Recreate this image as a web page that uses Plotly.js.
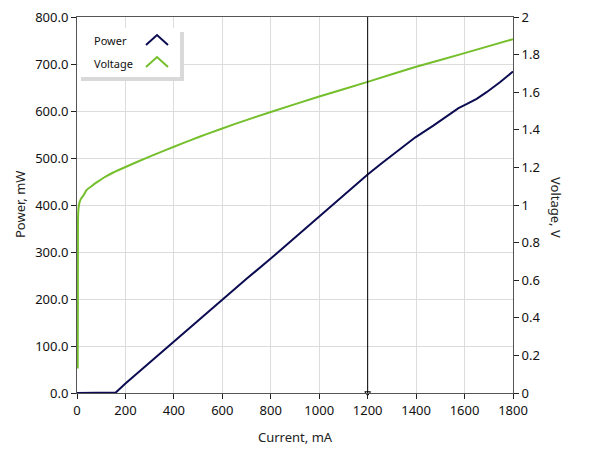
<!DOCTYPE html>
<html>
<head>
<meta charset="utf-8">
<script src="https://cdn.plot.ly/plotly-3.0.1.min.js"></script>
<style>html,body{margin:0;padding:0;background:#fff;}#chart{width:589px;height:456px;}</style>
</head>
<body>
<div id="chart"></div>
<script>
// Data
const powerCurrent = [0, 155, 160, 200, 300, 400, 500, 600, 700, 800, 900, 1000, 1100, 1200, 1258, 1300, 1397, 1471, 1575, 1610, 1650, 1691, 1746, 1800];
const powerValues  = [0, 0, 1, 20, 65, 110, 155, 200, 243, 286, 331, 377, 421, 465, 489, 506, 544, 569, 606, 615, 626, 640, 661, 684];

const voltCurrent = [3, 3.5, 4, 5, 8, 15, 26, 40, 60, 81, 110, 150, 205, 290, 340, 400, 470, 535, 650, 800, 1000, 1200, 1400, 1600, 1800];
const voltValues  = [0.13, 0.6, 0.9, 0.96, 1.0, 1.03, 1.05, 1.08, 1.10, 1.12, 1.145, 1.173, 1.205, 1.252, 1.279, 1.310, 1.345, 1.377, 1.43, 1.495, 1.577, 1.655, 1.735, 1.808, 1.882];

const xTicks = [0, 200, 400, 600, 800, 1000, 1200, 1400, 1600, 1800];
const yTicks = [0, 100, 200, 300, 400, 500, 600, 700, 800];
const y2Ticks = [0, 0.2, 0.4, 0.6, 0.8, 1, 1.2, 1.4, 1.6, 1.8, 2];
const seriesNames = ['Power', 'Voltage'];
const cursorX = 1200;

const powerColor = '#0c0c52';
const voltColor = '#74bf2b';
const font = 'Noto Sans, Open Sans, sans-serif';

// Pixel geometry of plot area -> paper helpers (for legend decoration)
const L = 77, R = 513, T = 17, B = 393;
const px = v => (v - L) / (R - L);
const py = v => (B - v) / (B - T);

const traces = [
  {x: powerCurrent, y: powerValues, name: seriesNames[0], type: 'scatter', mode: 'lines',
   line: {color: powerColor, width: 2}, yaxis: 'y', showlegend: false, hoverinfo: 'skip'},
  {x: voltCurrent, y: voltValues, name: seriesNames[1], type: 'scatter', mode: 'lines',
   line: {color: voltColor, width: 2, shape: 'spline', smoothing: 0.6}, yaxis: 'y2', showlegend: false, hoverinfo: 'skip'},
  {x: [cursorX], y: [0], type: 'scatter', mode: 'markers', cliponaxis: false,
   marker: {symbol: 'triangle-down-open', size: 5, color: '#000', line: {width: 1, color: '#000'}},
   showlegend: false, hoverinfo: 'skip'}
];

const axisCommon = {
  showline: true, linecolor: '#555', linewidth: 1,
  ticks: 'outside', ticklen: 5, tickcolor: '#222', tickwidth: 1,
  gridcolor: '#dcdcdc', gridwidth: 1, zeroline: false,
  tickfont: {family: font, size: 13, color: '#111'}
};

const shapes = [
  {type: 'line', xref: 'x', yref: 'paper', x0: cursorX, x1: cursorX, y0: 0, y1: 1,
   line: {color: '#000', width: 1}},
  // legend shadow and box
  {type: 'rect', xref: 'paper', yref: 'paper', x0: px(81), x1: px(184), y0: py(81), y1: py(32),
   line: {width: 0}, fillcolor: '#d9d9d9', layer: 'above'},
  {type: 'rect', xref: 'paper', yref: 'paper', x0: px(78), x1: px(180), y0: py(77), y1: py(28),
   line: {width: 0}, fillcolor: '#ffffff', layer: 'above'},
  // legend glyphs
  {type: 'path', xref: 'paper', yref: 'paper', layer: 'above',
   path: `M ${px(146)},${py(45)} L ${px(157)},${py(35)} L ${px(168)},${py(45)}`,
   line: {color: powerColor, width: 2}},
  {type: 'path', xref: 'paper', yref: 'paper', layer: 'above',
   path: `M ${px(146)},${py(67)} L ${px(157)},${py(57)} L ${px(168)},${py(67)}`,
   line: {color: voltColor, width: 2}}
];

const annotations = [
  {text: seriesNames[0], xref: 'paper', yref: 'paper', x: px(92), y: py(41), xanchor: 'left', yanchor: 'middle',
   showarrow: false, font: {family: font, size: 11, color: '#111'}},
  {text: seriesNames[1], xref: 'paper', yref: 'paper', x: px(92), y: py(63), xanchor: 'left', yanchor: 'middle',
   showarrow: false, font: {family: font, size: 11, color: '#111'}},
  {text: 'Power, mW', xref: 'paper', yref: 'paper', x: px(20), y: py(205), textangle: -90,
   xanchor: 'center', yanchor: 'middle', showarrow: false, font: {family: font, size: 13, color: '#222'}},
  {text: 'Voltage, V', xref: 'paper', yref: 'paper', x: px(556), y: py(207), textangle: 90,
   xanchor: 'center', yanchor: 'middle', showarrow: false, font: {family: font, size: 13, color: '#222'}},
  {text: 'Current, mA', xref: 'paper', yref: 'paper', x: px(295), y: py(437),
   xanchor: 'center', yanchor: 'middle', showarrow: false, font: {family: font, size: 13, color: '#222'}}
];

const layout = {
  width: 589, height: 456,
  margin: {l: L, r: 589 - R, t: T, b: 456 - B, pad: 0},
  paper_bgcolor: '#fff', plot_bgcolor: '#fff',
  showlegend: false,
  xaxis: Object.assign({}, axisCommon, {range: [0, 1800], tickvals: xTicks, mirror: true}),
  yaxis: Object.assign({}, axisCommon, {range: [0, 800], tickvals: yTicks, tickformat: '.1f'}),
  yaxis2: Object.assign({}, axisCommon, {range: [0, 2], tickvals: y2Ticks, overlaying: 'y', side: 'right', showgrid: false}),
  shapes: shapes,
  annotations: annotations
};

Plotly.newPlot('chart', traces, layout, {staticPlot: true, displayModeBar: false});
</script>
</body>
</html>
